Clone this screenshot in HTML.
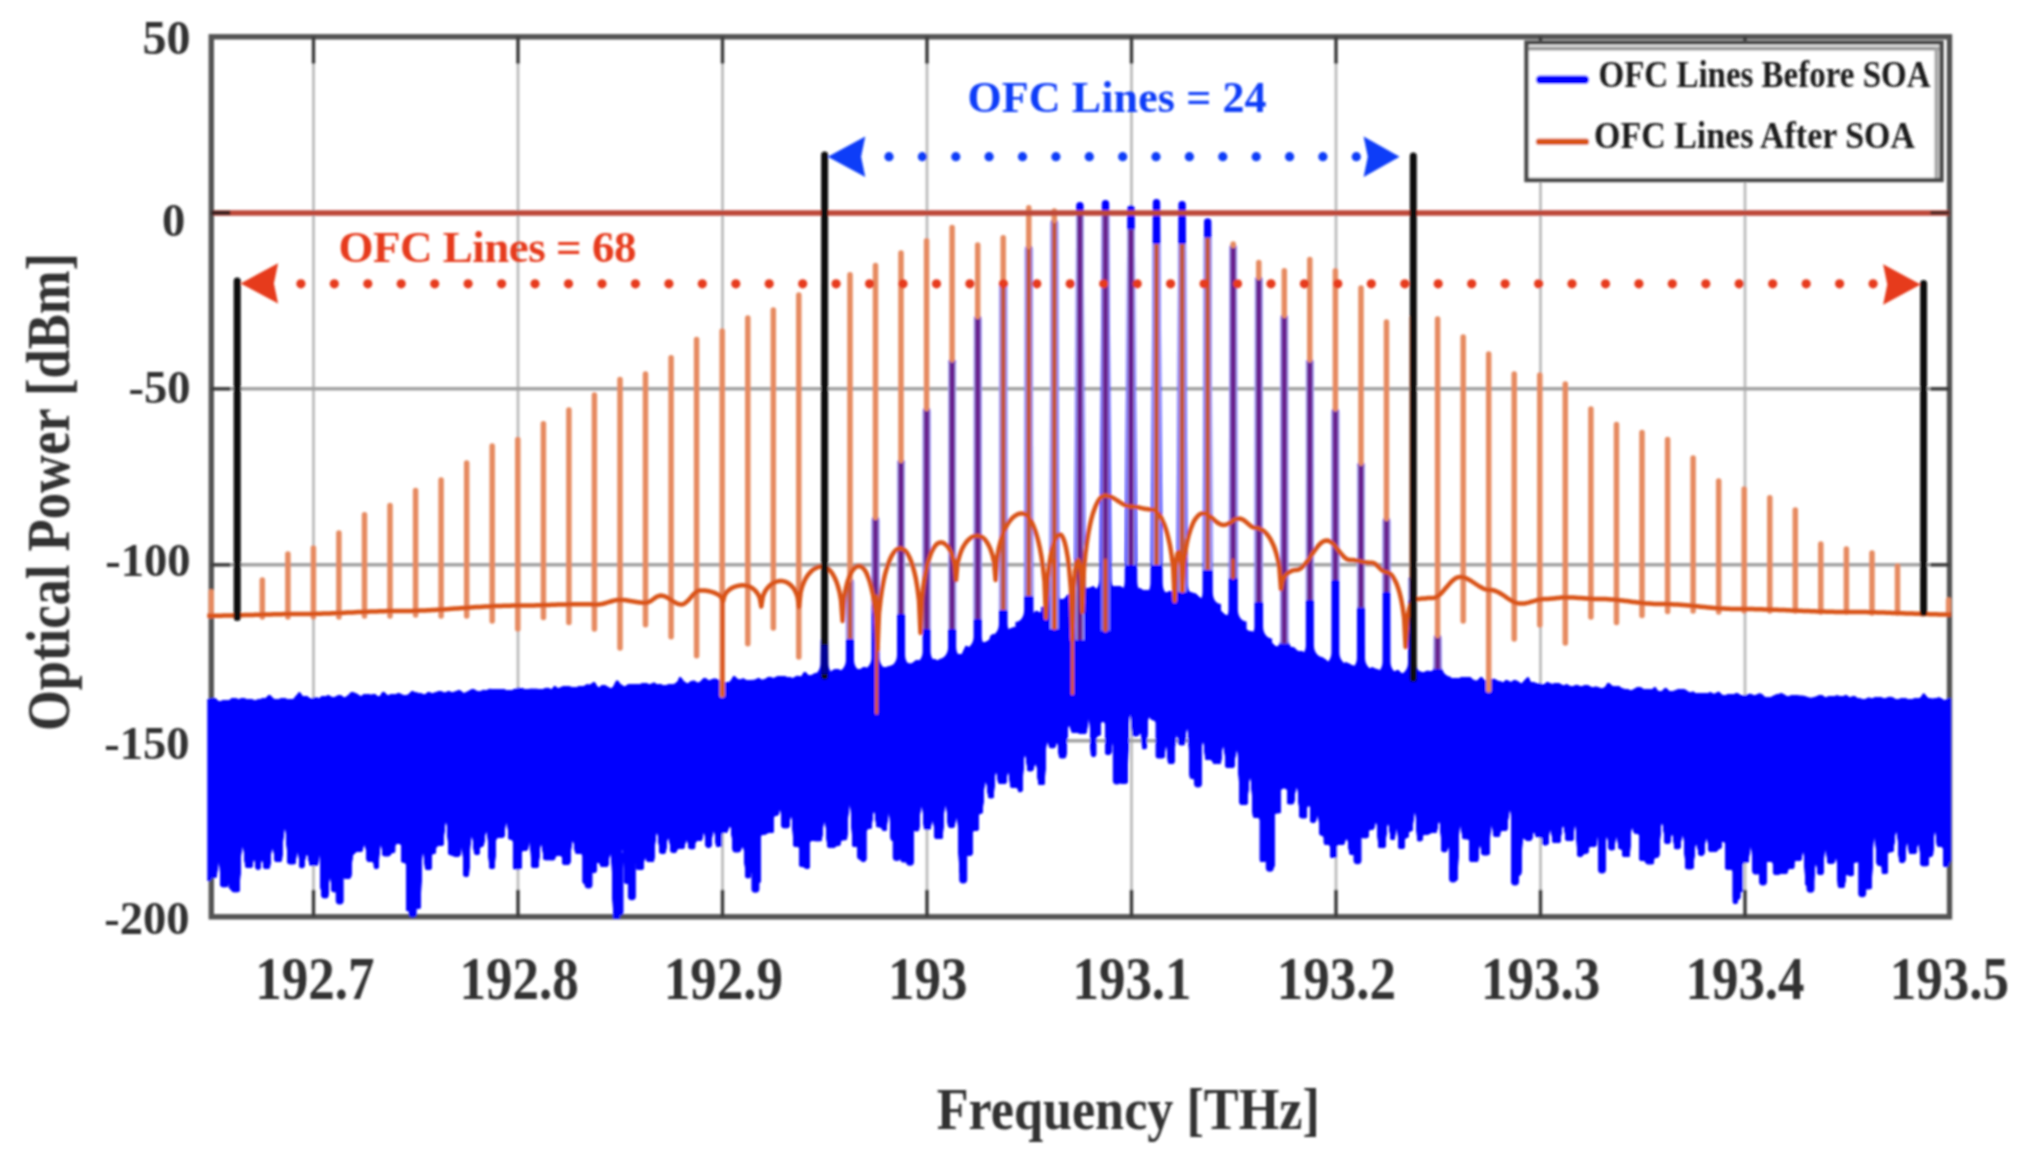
<!DOCTYPE html>
<html lang="en">
<head>
<meta charset="utf-8">
<title>OFC spectrum</title>
<style>html,body{margin:0;padding:0;background:#fff;}body{width:2031px;height:1164px;overflow:hidden;}svg{display:block;}</style>
</head>
<body>
<svg width="2031" height="1164" viewBox="0 0 2031 1164">
<defs>
<clipPath id="plot"><rect x="207.3" y="36.8" width="1743.8" height="882"/></clipPath>
<filter id="soft" x="-2%" y="-2%" width="104%" height="104%"><feGaussianBlur stdDeviation="0.8"/></filter>
<filter id="soft2" x="-2%" y="-2%" width="104%" height="104%"><feGaussianBlur stdDeviation="0.9"/></filter>
<filter id="goo" x="-1%" y="-5%" width="102%" height="110%"><feGaussianBlur in="SourceGraphic" stdDeviation="1.3" result="b"/><feColorMatrix in="b" mode="matrix" values="1 0 0 0 0  0 1 0 0 0  0 0 1 0 0  0 0 0 9 -4"/></filter>
</defs>
<rect x="0" y="0" width="2031" height="1164" fill="#ffffff"/>
<g filter="url(#soft)">
<g stroke="#bcbcbc" stroke-width="2.8" fill="none">
<line x1="313.5" y1="36.8" x2="313.5" y2="916.8"/>
<line x1="518" y1="36.8" x2="518" y2="916.8"/>
<line x1="722.5" y1="36.8" x2="722.5" y2="916.8"/>
<line x1="927" y1="36.8" x2="927" y2="916.8"/>
<line x1="1131.5" y1="36.8" x2="1131.5" y2="916.8"/>
<line x1="1336" y1="36.8" x2="1336" y2="916.8"/>
<line x1="1540.5" y1="36.8" x2="1540.5" y2="916.8"/>
<line x1="1745" y1="36.8" x2="1745" y2="916.8"/>
</g>
<g stroke="#a2a2a2" stroke-width="3.6" fill="none">
<line x1="211.3" y1="388.8" x2="1949.5" y2="388.8"/>
<line x1="211.3" y1="564.8" x2="1949.5" y2="564.8"/>
<line x1="211.3" y1="740.8" x2="1949.5" y2="740.8"/>
</g>
<rect x="211.3" y="36.8" width="1738.2" height="880" fill="none" stroke="#525252" stroke-width="5.4"/>
<g stroke="#3a3a3a" stroke-width="3.4">
<line x1="313.5" y1="36.8" x2="313.5" y2="63.8"/>
<line x1="313.5" y1="916.8" x2="313.5" y2="889.8"/>
<line x1="518" y1="36.8" x2="518" y2="63.8"/>
<line x1="518" y1="916.8" x2="518" y2="889.8"/>
<line x1="722.5" y1="36.8" x2="722.5" y2="63.8"/>
<line x1="722.5" y1="916.8" x2="722.5" y2="889.8"/>
<line x1="927" y1="36.8" x2="927" y2="63.8"/>
<line x1="927" y1="916.8" x2="927" y2="889.8"/>
<line x1="1131.5" y1="36.8" x2="1131.5" y2="63.8"/>
<line x1="1131.5" y1="916.8" x2="1131.5" y2="889.8"/>
<line x1="1336" y1="36.8" x2="1336" y2="63.8"/>
<line x1="1336" y1="916.8" x2="1336" y2="889.8"/>
<line x1="1540.5" y1="36.8" x2="1540.5" y2="63.8"/>
<line x1="1540.5" y1="916.8" x2="1540.5" y2="889.8"/>
<line x1="1745" y1="36.8" x2="1745" y2="63.8"/>
<line x1="1745" y1="916.8" x2="1745" y2="889.8"/>
<line x1="211.3" y1="212.8" x2="230.3" y2="212.8"/>
<line x1="1949.5" y1="212.8" x2="1930.5" y2="212.8"/>
<line x1="211.3" y1="388.8" x2="230.3" y2="388.8"/>
<line x1="1949.5" y1="388.8" x2="1930.5" y2="388.8"/>
<line x1="211.3" y1="564.8" x2="230.3" y2="564.8"/>
<line x1="1949.5" y1="564.8" x2="1930.5" y2="564.8"/>
<line x1="211.3" y1="740.8" x2="230.3" y2="740.8"/>
<line x1="1949.5" y1="740.8" x2="1930.5" y2="740.8"/>
</g>
<g clip-path="url(#plot)">
<path d="M205 700.2 L209.1 699 L212.5 698.9 L215.1 698.1 L218.7 702.1 L221.8 701.1 L225.7 700 L228.3 702 L231.2 698.6 L235.7 698.8 L239.8 699.5 L242.5 698.1 L246.7 699.6 L250.6 699.6 L255.1 700.6 L259.1 699.7 L263.4 698.5 L266.2 699 L269.1 694.6 L273.5 699.5 L276.8 700 L280.7 698.8 L285.6 698.8 L288.2 699.7 L293.2 700.1 L296.7 695.5 L299.6 691.8 L302.4 697.3 L307.1 696.4 L311 699.7 L315.6 696.9 L319 699.4 L321.9 696.2 L325 697.4 L328.1 695.2 L331.6 697.5 L335.8 697.1 L340 694.9 L344.4 698.4 L347.9 696.1 L352 691.7 L354.9 693.6 L357.8 694.4 L360.3 697.7 L363.2 694.9 L366.6 694.2 L371.6 695.5 L374.3 693.8 L377.5 696.8 L380 697.3 L382.9 691.3 L387.8 696.6 L391 694.3 L395.4 694.8 L398.8 693.3 L403.7 695.9 L408.3 695.2 L412.1 691.2 L415.3 692.8 L420.1 693.4 L425.1 695.4 L428.2 692 L431.2 693.6 L435.8 692.8 L440.3 690.9 L445.1 693.7 L448.7 690.9 L452.1 693.5 L455.6 691.6 L459.9 690.4 L462.8 693.5 L465.6 693 L469.8 690.7 L472.6 689.1 L476.7 691.2 L480.3 692.5 L483.3 689.7 L486.4 691 L490 688.8 L493.4 690.1 L498.1 689.7 L501.9 690.1 L504.4 689.6 L506.9 691.1 L510.6 690.7 L513.9 689.7 L518.4 687.8 L521.5 688.5 L525.3 689.6 L530.1 689 L533.8 689.2 L537.5 689.2 L542.3 689.8 L547.2 687.8 L552 690.2 L554.8 685.4 L557.5 689.3 L562.3 686.9 L566.4 686.8 L571.3 687 L574.8 688.1 L579.4 686.5 L583.2 687.2 L586.5 684.6 L590.1 685.6 L594.2 681.8 L598.6 689.6 L601.8 685.4 L605 685.6 L609.7 688.4 L612.6 688.7 L616.9 680 L620.4 684.5 L624.5 687.5 L629.2 684 L632.8 685 L637.6 684.4 L641.4 684.1 L644.3 683.1 L647.6 684 L650.8 684.7 L654.2 682.4 L656.7 685.4 L659.7 684.1 L662.5 685.5 L666.2 685.3 L670 684.5 L673.3 684.9 L677.4 682.8 L680.1 676.5 L683.2 681.4 L687.8 684.3 L691 681.4 L694.7 680.8 L697.8 684.2 L701.7 680.8 L705 677.6 L708.6 681.6 L712.4 679.3 L715.1 678.8 L718.4 680 L722.2 682.1 L726.5 682.5 L729.8 682.8 L734.1 675.8 L738.9 680.8 L743.4 678.5 L747.2 681.4 L751.7 680 L755.9 680.3 L758.5 677.8 L761.3 680.7 L765.3 679.6 L769.1 676.7 L773.4 678.7 L777.6 676.6 L780.7 676.5 L785 676.9 L790 677.9 L793.7 678.6 L797.7 675.6 L800.8 678.4 L804.8 671.4 L808.9 676.7 L812.2 675.3 L815.8 672.9 L818.8 676.2 L821.4 673.4 L826.3 672.5 L829.3 674.1 L833.3 670 L838.2 669.3 L841.9 672.1 L845 671.7 L847.6 667.5 L851.2 668.3 L854.6 667.9 L857.1 669.5 L859.9 669.9 L864.6 666.8 L868.1 669.7 L871.5 666.9 L874.1 665.3 L877.3 668.8 L880.5 666.7 L883.9 668.4 L888.5 666.7 L893.3 665.7 L895.9 666.1 L900.3 665 L902.9 665.8 L906.6 662.7 L911 664.7 L915.1 661.1 L918.6 660.2 L921.6 663.3 L924.7 663 L928.3 659.4 L931 660 L934.1 659.4 L938.8 661.2 L942.4 659.4 L945.7 656.5 L950.6 655.4 L954.7 657.5 L957.9 653.9 L961.5 656 L966.2 645.4 L970.9 649.7 L973.4 647.9 L978 647.5 L981.1 642.5 L984.9 642.9 L989.2 640.6 L992.9 633.3 L995.9 638.6 L999.2 633.5 L1003.3 634.1 L1006 632.1 L1009.4 629.1 L1012 628.2 L1016.9 627 L1020.6 623.1 L1025.5 622.3 L1028 619.9 L1031.6 616.8 L1036.4 610.5 L1039.9 613.8 L1044.4 611.4 L1047.4 610.7 L1052 604.7 L1056.4 602.4 L1060.1 599.7 L1063.7 599.7 L1066.5 596.8 L1071.5 591.6 L1074.9 596 L1079.3 595 L1082.6 590.3 L1087 588.1 L1090.4 588.4 L1093.3 586.2 L1096.7 590.3 L1101.6 587 L1106.2 589.6 L1108.8 588 L1113.6 586.7 L1118.3 586 L1122.9 587.8 L1125.5 591 L1129.9 591.6 L1133.1 592.1 L1136.2 591.2 L1139.4 588.3 L1144.2 591.3 L1146.8 589.8 L1151.7 593.4 L1154.8 591.3 L1159.6 590.7 L1164 593.9 L1168 592.1 L1171.4 591.5 L1175.8 589.8 L1179.6 592.2 L1184.4 595.1 L1187.1 591.2 L1191.3 592.8 L1194.9 593.5 L1199.3 597.4 L1202.1 599.3 L1206 599.9 L1209 601.3 L1211.9 606.1 L1215.2 606.2 L1218.9 608 L1223.1 614.1 L1226.8 615.9 L1231.5 615.8 L1234.3 618.4 L1238.3 624.4 L1243 625.6 L1247.4 630.9 L1251.4 632.1 L1254.8 632.1 L1258 636 L1261 635.3 L1265.2 638.6 L1268.2 643.1 L1270.8 641.7 L1274.7 646.4 L1277.6 647.4 L1280.8 646.3 L1284.1 648.1 L1287.6 650.1 L1291.1 647.9 L1294.1 647.6 L1297.6 651.9 L1302.3 651.7 L1304.9 653.1 L1309.6 652.8 L1313.1 655.9 L1316.3 657.2 L1319 658.1 L1324 658.7 L1328.8 662.9 L1331.5 663.2 L1336.2 662.7 L1339.1 663.9 L1342.6 664.8 L1345.6 662.5 L1349.4 664 L1352.5 666.2 L1355.1 666.1 L1357.7 667.9 L1361.7 667.6 L1365 667.7 L1368.5 669.6 L1372.1 667.6 L1375.8 669.4 L1380.3 670.7 L1384 669.3 L1387.6 669.5 L1391.3 669.5 L1394 672.7 L1397.8 669.9 L1401.3 674 L1405.9 674.2 L1410.4 670.7 L1414.2 674 L1417.1 673.3 L1419.7 671.3 L1422.6 673.7 L1427.2 670.8 L1432 672 L1435.7 670.4 L1438.6 676.4 L1443.4 673.9 L1446.2 676 L1449.6 678.1 L1453.5 678.9 L1458.5 678.6 L1463 677.3 L1466.9 678 L1470.6 677.5 L1473.2 680.5 L1477.3 681.6 L1481.4 676.8 L1484.3 680.5 L1488.1 682 L1491.2 679.1 L1494.5 679 L1497.6 681.3 L1500.6 681.7 L1503.4 683.3 L1506.3 679.8 L1511 683.2 L1514.2 680 L1518.1 681.8 L1521.7 684.6 L1524.8 680.6 L1528.3 676.9 L1530.8 683.6 L1533.7 682.3 L1537.5 684.5 L1540.4 683.2 L1543 685.9 L1547.3 682.3 L1551.7 684.5 L1555.3 683.7 L1558.4 683 L1562.8 686.1 L1567 684.5 L1570.6 687 L1573.8 686.5 L1576.8 684.7 L1579.9 687.3 L1584.3 685.7 L1587.6 685.4 L1591.7 687.7 L1596.6 686.9 L1600.9 688.9 L1605.2 687.8 L1608.2 682.6 L1611.1 685.8 L1615.9 687.4 L1618.5 686.2 L1622.6 689.3 L1625.2 689 L1629.8 690.3 L1632.4 690.6 L1637.3 687.5 L1640.1 687.3 L1644.6 690.2 L1648.7 688.9 L1651.4 691.1 L1654.7 686.8 L1657.9 691.3 L1661.2 692.6 L1665.9 687.6 L1669.5 692.2 L1673.7 691.4 L1678.4 689.6 L1681.3 689.4 L1685.7 690 L1689.4 693.3 L1693.2 691.6 L1696.3 694.4 L1699.4 693.4 L1702.1 693.3 L1706.6 693.8 L1710.7 692.5 L1714.2 695.1 L1718.9 691.5 L1722 695.5 L1725.5 695.6 L1729.1 694.3 L1733.5 695 L1736.8 693 L1741 695.9 L1744.6 696.2 L1747.4 694.9 L1750.5 693.8 L1754.8 696.7 L1757.6 694.2 L1761.5 693.9 L1764.4 697.6 L1767.2 697.6 L1770.6 697.7 L1775 695.4 L1779.1 694.1 L1782.5 693.8 L1787 696.9 L1791.1 695.9 L1795.1 695.8 L1799.9 696 L1804.3 696.1 L1808.6 698.2 L1812.8 698.2 L1816.9 696.5 L1821 695 L1825.4 697.9 L1828.6 696.7 L1832.6 696.7 L1837.4 695.8 L1841.9 696.8 L1846.8 695.4 L1849.7 698.7 L1853.5 695.8 L1857.4 698.6 L1861.5 699.2 L1865 699.8 L1869.2 697.5 L1872 700.2 L1874.7 697.1 L1877.2 697.8 L1881.4 697.6 L1884.5 699.4 L1888.3 697.2 L1891.8 697.2 L1896.2 700 L1899.9 699 L1904.8 698.2 L1909.4 700.3 L1912.6 699.2 L1917.2 698.5 L1920.4 698.6 L1923.9 693 L1927.1 698.2 L1930.8 699.1 L1935 698.9 L1939.6 697.7 L1944.4 701 L1949 698.4 L1953.8 700.7 L1961.3 875.7 L1953.9 875.7 L1951.9 858.2 L1950.2 858.2 L1948.2 866.3 L1943.3 866.3 L1943.3 846.4 L1937.2 846.4 L1935.6 816.8 L1934.3 816.8 L1932.8 856.1 L1928.3 856.1 L1928.3 865.8 L1921 865.8 L1919.2 836.5 L1917.8 836.5 L1916 853.6 L1909.3 853.6 L1907.8 832.4 L1906.4 832.4 L1904.9 862.2 L1899.4 862.2 L1897.3 826.1 L1895.4 826.1 L1893.3 851.8 L1887.4 851.8 L1887.4 873.6 L1882.1 873.6 L1882.1 865.2 L1877.1 865.2 L1875.1 825.7 L1873.4 825.7 L1871.4 888.9 L1864.2 888.9 L1862.7 850.1 L1861.3 850.1 L1859.8 861.9 L1853.3 861.9 L1853.3 875.8 L1848.6 875.8 L1847.2 870 L1846 870 L1844.5 887.4 L1838.2 887.4 L1836.8 845 L1835.6 845 L1834.2 863.1 L1827.6 863.1 L1826 837.9 L1824.6 837.9 L1823 874.4 L1817.9 874.4 L1816.4 852 L1815.1 852 L1813.6 885.2 L1805.5 885.2 L1804 835.9 L1802.8 835.9 L1801.3 860.2 L1794 860.2 L1794 868.4 L1787.4 868.4 L1787.4 873.5 L1779.9 873.5 L1779.9 874.1 L1773.2 874.1 L1773.2 861.4 L1765.4 861.4 L1763.4 849.2 L1761.8 849.2 L1759.8 873.9 L1753.1 873.9 L1751.5 833.2 L1750.1 833.2 L1748.5 862.5 L1742.4 862.5 L1742.4 892 L1737.5 892 L1737.5 903.4 L1733.1 903.4 L1733.1 869.1 L1725.3 869.1 L1725.3 840.8 L1721.1 840.8 L1721.1 848.6 L1717 848.6 L1717 851.4 L1709 851.4 L1707.2 830.9 L1705.7 830.9 L1703.9 855.1 L1698.8 855.1 L1696.9 839 L1695.2 839 L1693.2 868.9 L1685.7 868.9 L1683.7 828.9 L1682 828.9 L1680 848.8 L1674.5 848.8 L1672.9 826.8 L1671.5 826.8 L1669.9 843.5 L1665 843.5 L1662.8 816.5 L1661 816.5 L1658.9 857.2 L1653.8 857.2 L1653.8 863.9 L1646 863.9 L1646 860.4 L1639.7 860.4 L1639.7 833.3 L1634.2 833.3 L1632.6 820.2 L1631.2 820.2 L1629.6 856.7 L1622.7 856.7 L1622.7 848.8 L1618.6 848.8 L1617.1 826.1 L1615.8 826.1 L1614.3 849.9 L1609.1 849.9 L1607.4 826.9 L1605.9 826.9 L1604.2 864.2 L1600 864.2 L1598.6 819 L1597.4 819 L1596 846.3 L1588.2 846.3 L1588.2 853.1 L1582.9 853.1 L1582.9 856.1 L1577.5 856.1 L1575.9 808.5 L1574.6 808.5 L1573.1 840.7 L1565.9 840.7 L1563.9 820.9 L1562.2 820.9 L1560.2 842.7 L1552.7 842.7 L1551 820.5 L1549.7 820.5 L1548 844.9 L1542.6 844.9 L1542.6 837 L1535.8 837 L1534.4 825.2 L1533.2 825.2 L1531.8 840.2 L1525.3 840.2 L1523.7 832 L1522.4 832 L1520.9 875.2 L1513.2 875.2 L1511 802.2 L1509.2 802.2 L1507 830.3 L1499.9 830.3 L1499.9 836.4 L1493.6 836.4 L1492.1 811.8 L1490.7 811.8 L1489.2 855 L1481.9 855 L1480.5 831.3 L1479.3 831.3 L1477.9 861.6 L1469.9 861.6 L1469.9 838.8 L1462.6 838.8 L1460.8 814.5 L1459.3 814.5 L1457.4 880.1 L1450.7 880.1 L1449.3 834 L1448 834 L1446.6 851.8 L1441.9 851.8 L1440.1 814.7 L1438.5 814.7 L1436.6 832.7 L1429.2 832.7 L1429.2 834.2 L1422.2 834.2 L1422.2 841 L1417.4 841 L1415.6 800.3 L1414.2 800.3 L1412.4 830.9 L1408.3 830.9 L1408.3 837.7 L1404.3 837.7 L1404.3 848.3 L1398.8 848.3 L1397.3 815.1 L1396 815.1 L1394.6 839.7 L1390.7 839.7 L1388.8 817.2 L1387.1 817.2 L1385.2 847.6 L1378.5 847.6 L1376.9 815 L1375.5 815 L1373.8 829.3 L1368.2 829.3 L1368.2 837.8 L1361.7 837.8 L1360.2 835.5 L1359 835.5 L1357.5 854.4 L1349.6 854.4 L1347.6 835.5 L1346 835.5 L1344 844.5 L1336.6 844.5 L1336.6 857.5 L1330.3 857.5 L1330.3 844.3 L1324.1 844.3 L1324.1 835.1 L1319.9 835.1 L1318.4 805.9 L1317.1 805.9 L1315.6 822.2 L1310.7 822.2 L1310.7 805.1 L1306.8 805.1 L1306.8 818 L1299.9 818 L1297.7 781.9 L1295.9 781.9 L1293.7 804 L1287.4 804 L1287.4 788 L1280.6 788 L1280.6 813 L1274.1 813 L1274.1 867.4 L1270.3 867.4 L1268.6 843.3 L1267.3 843.3 L1265.6 861.6 L1260.1 861.6 L1260.1 817.4 L1253.2 817.4 L1251.1 769.6 L1249.3 769.6 L1247.2 804.3 L1240 804.3 L1237.9 743 L1236.1 743 L1234 767.4 L1225.9 767.4 L1224.1 738.2 L1222.5 738.2 L1220.7 763.7 L1213.1 763.7 L1213.1 759.6 L1205.4 759.6 L1203.6 728.8 L1202.1 728.8 L1200.3 780.2 L1194.7 780.2 L1194.7 778.3 L1190.1 778.3 L1188.2 718.4 L1186.6 718.4 L1184.7 744.9 L1179 744.9 L1177.2 726.8 L1175.8 726.8 L1174 763.5 L1168.2 763.5 L1166.8 729.1 L1165.6 729.1 L1164.3 758 L1156.1 758 L1156.1 720 L1151.5 720 L1149.7 713.9 L1148.1 713.9 L1146.3 749 L1142.4 749 L1141 725.7 L1139.8 725.7 L1138.4 736 L1132.4 736 L1130.6 695.7 L1129.1 695.7 L1127.4 783.1 L1119.6 783.1 L1119.6 777.4 L1115.7 777.4 L1114 731.1 L1112.6 731.1 L1110.9 754.2 L1105.3 754.2 L1105.3 721.3 L1100.3 721.3 L1100.3 735.7 L1095.9 735.7 L1095.9 756.2 L1091.2 756.2 L1089.6 704.9 L1088.2 704.9 L1086.6 733.2 L1079.2 733.2 L1079.2 732.7 L1071.7 732.7 L1069.6 722 L1067.9 722 L1065.8 758 L1059.3 758 L1057.8 735.3 L1056.5 735.3 L1055.1 747.8 L1049.6 747.8 L1047.8 735.1 L1046.3 735.1 L1044.5 784.6 L1038.5 784.6 L1036.6 760.3 L1034.9 760.3 L1032.9 771 L1027.6 771 L1025.7 747.1 L1024 747.1 L1022.1 791.8 L1018.2 791.8 L1018.2 787.3 L1010.4 787.3 L1008.9 761.7 L1007.6 761.7 L1006.1 783.3 L998.3 783.3 L996.6 762.4 L995.2 762.4 L993.5 798 L988.5 798 L986.4 776.2 L984.6 776.2 L982.4 813.1 L978.3 813.1 L978.3 830.4 L972.1 830.4 L972.1 855.2 L966 855.2 L966 873 L959.5 873 L957.7 808.1 L956.2 808.1 L954.4 827.2 L948.3 827.2 L946.3 797.7 L944.5 797.7 L942.5 838.7 L935 838.7 L933.4 812.9 L932 812.9 L930.4 829.4 L924.3 829.4 L922.4 798 L920.7 798 L918.8 830.9 L914 830.9 L911.9 827.8 L910 827.8 L907.9 861.9 L901.1 861.9 L899.1 810 L897.5 810 L895.5 840.5 L891.1 840.5 L889.5 799.3 L888.1 799.3 L886.5 830.6 L882.4 830.6 L882.4 826.9 L876.5 826.9 L874.7 803.7 L873.2 803.7 L871.4 828.6 L866 828.6 L866 861.1 L860.8 861.1 L860.8 846.7 L852.7 846.7 L850.6 793.7 L848.9 793.7 L846.8 839.8 L840.1 839.8 L840.1 845.4 L835.4 845.4 L835.4 847.2 L827.5 847.2 L825.4 815.2 L823.7 815.2 L821.6 840.8 L813.8 840.8 L813.8 840.5 L809.4 840.5 L809.4 868.5 L805.2 868.5 L805.2 866.6 L799.7 866.6 L799.7 846.2 L793.6 846.2 L792 804.5 L790.6 804.5 L789 827.8 L782 827.8 L780.7 796.8 L779.5 796.8 L778.2 815.2 L773.5 815.2 L773.5 832.7 L766.2 832.7 L766.2 834.2 L760.4 834.2 L760.4 882.7 L756 882.7 L754 864.7 L752.2 864.7 L750.2 877.9 L745.8 877.9 L743.8 843.5 L742.1 843.5 L740.1 851.9 L733.2 851.9 L731.1 823.3 L729.4 823.3 L727.3 832.3 L721.5 832.3 L721.5 846.7 L716.3 846.7 L714.5 824.6 L712.9 824.6 L711 847.1 L706 847.1 L704.5 822.1 L703.3 822.1 L701.8 840.7 L694.9 840.7 L694.9 848.8 L688.9 848.8 L687.3 834.6 L685.9 834.6 L684.3 848.4 L676.6 848.4 L676.6 852.2 L670.9 852.2 L669.1 832.8 L667.4 832.8 L665.6 853.1 L659.8 853.1 L657.7 826.6 L655.9 826.6 L653.8 861.7 L647 861.7 L645.7 847.7 L644.6 847.7 L643.2 869.7 L636.7 869.7 L634.8 851.4 L633.2 851.4 L631.2 883.4 L624.8 883.4 L622.8 832.3 L621.2 832.3 L619.2 919.1 L613.5 919.1 L611.5 845.6 L609.8 845.6 L607.9 866.4 L600.2 866.4 L600.2 862 L596.1 862 L596.1 872.5 L590.6 872.5 L590.6 883.4 L583 883.4 L583 853.4 L575.4 853.4 L573.4 834.7 L571.8 834.7 L569.9 864.2 L562.6 864.2 L562.6 855.3 L554.9 855.3 L554.9 859.9 L550.7 859.9 L550.7 859.8 L543.7 859.8 L541.9 837 L540.3 837 L538.4 867.4 L531.5 867.4 L530.2 822.2 L529 822.2 L527.7 850.2 L521.3 850.2 L521.3 868.9 L513.2 868.9 L513.2 839.2 L508.8 839.2 L507.2 812.6 L505.8 812.6 L504.1 837.2 L498.3 837.2 L497 837.7 L495.9 837.7 L494.5 868.4 L489.5 868.4 L487.4 824.7 L485.7 824.7 L483.6 846.2 L479.5 846.2 L479.5 854.2 L474.4 854.2 L472.4 828.2 L470.7 828.2 L468.7 876.2 L463.8 876.2 L462.4 827 L461.3 827 L459.9 856.2 L453.5 856.2 L453.5 854.8 L448.8 854.8 L446.8 811.9 L445.2 811.9 L443.2 845.6 L435.8 845.6 L435.8 853.5 L431.2 853.5 L431.2 869.3 L425.3 869.3 L423.6 838.1 L422.1 838.1 L420.4 908.6 L415.5 908.6 L414.1 889.9 L412.9 889.9 L411.5 910.8 L406.3 910.8 L406.3 862.1 L401.5 862.1 L401.5 843.5 L394.9 843.5 L394.9 852.7 L390.2 852.7 L390.2 856 L382.8 856 L381.3 832.8 L380 832.8 L378.4 868.3 L374.1 868.3 L374.1 861.3 L367.1 861.3 L365.4 839.5 L363.9 839.5 L362.2 851.7 L354.9 851.7 L353.5 854.5 L352.3 854.5 L350.8 878.2 L343.7 878.2 L342.1 827.5 L340.7 827.5 L339.1 891.8 L331.9 891.8 L330.5 859.1 L329.3 859.1 L327.9 897.8 L322 897.8 L320.5 837.5 L319.2 837.5 L317.7 865.5 L309.7 865.5 L307.7 851.3 L305.9 851.3 L303.9 867.8 L299.8 867.8 L298.3 841.6 L297 841.6 L295.4 864 L287.9 864 L285.8 821.4 L283.9 821.4 L281.7 861.4 L275 861.4 L273.2 842 L271.6 842 L269.7 868.4 L263.9 868.4 L262.6 848.6 L261.4 848.6 L260.1 869.2 L256 869.2 L254.7 847.9 L253.5 847.9 L252.2 867.5 L245.5 867.5 L243.3 839.3 L241.5 839.3 L239.3 891.8 L232 891.8 L230.4 876.8 L229 876.8 L227.5 886.8 L220.9 886.8 L219.4 846.1 L218.1 846.1 L216.6 877.4 L210.8 877.4 L210.8 880.6 L205 880.6 Z" fill="#0000ff" stroke="#0000ff" stroke-width="1.2" stroke-linejoin="round" filter="url(#goo)"/>
<line x1="412.7" y1="857.5" x2="412.7" y2="913.5" stroke="#0000ff" stroke-width="8" stroke-linecap="round"/>
<line x1="619.5" y1="855.5" x2="619.5" y2="911.5" stroke="#0000ff" stroke-width="8" stroke-linecap="round"/>
<line x1="339.7" y1="844.6" x2="339.7" y2="900.6" stroke="#0000ff" stroke-width="8" stroke-linecap="round"/>
<line x1="631.9" y1="840.2" x2="631.9" y2="896.2" stroke="#0000ff" stroke-width="8" stroke-linecap="round"/>
<line x1="755.4" y1="832.8" x2="755.4" y2="888.8" stroke="#0000ff" stroke-width="8" stroke-linecap="round"/>
<line x1="324" y1="831" x2="324" y2="887" stroke="#0000ff" stroke-width="8" stroke-linecap="round"/>
<line x1="588.5" y1="828.4" x2="588.5" y2="884.4" stroke="#0000ff" stroke-width="8" stroke-linecap="round"/>
<line x1="232.5" y1="829.9" x2="232.5" y2="885.9" stroke="#0000ff" stroke-width="8" stroke-linecap="round"/>
<line x1="963.2" y1="823.5" x2="963.2" y2="879.5" stroke="#0000ff" stroke-width="8" stroke-linecap="round"/>
<line x1="1269.8" y1="811.7" x2="1269.8" y2="867.7" stroke="#0000ff" stroke-width="8" stroke-linecap="round"/>
<line x1="805" y1="805.8" x2="805" y2="861.8" stroke="#0000ff" stroke-width="8" stroke-linecap="round"/>
<line x1="861" y1="800" x2="861" y2="856" stroke="#0000ff" stroke-width="8" stroke-linecap="round"/>
<line x1="896.7" y1="801" x2="896.7" y2="857" stroke="#0000ff" stroke-width="8" stroke-linecap="round"/>
<line x1="910" y1="805.8" x2="910" y2="861.8" stroke="#0000ff" stroke-width="8" stroke-linecap="round"/>
<line x1="1116.8" y1="724.5" x2="1116.8" y2="780.5" stroke="#0000ff" stroke-width="8" stroke-linecap="round"/>
<line x1="1198" y1="727.5" x2="1198" y2="783.5" stroke="#0000ff" stroke-width="8" stroke-linecap="round"/>
<line x1="1357.5" y1="804.3" x2="1357.5" y2="860.3" stroke="#0000ff" stroke-width="8" stroke-linecap="round"/>
<line x1="1736.7" y1="840.2" x2="1736.7" y2="896.2" stroke="#0000ff" stroke-width="8" stroke-linecap="round"/>
<line x1="1453" y1="822.5" x2="1453" y2="878.5" stroke="#0000ff" stroke-width="8" stroke-linecap="round"/>
<line x1="1515" y1="825.4" x2="1515" y2="881.4" stroke="#0000ff" stroke-width="8" stroke-linecap="round"/>
<line x1="1810.5" y1="832.8" x2="1810.5" y2="888.8" stroke="#0000ff" stroke-width="8" stroke-linecap="round"/>
<line x1="1862.2" y1="837.3" x2="1862.2" y2="893.3" stroke="#0000ff" stroke-width="8" stroke-linecap="round"/>
<line x1="1763" y1="825.4" x2="1763" y2="881.4" stroke="#0000ff" stroke-width="8" stroke-linecap="round"/>
<line x1="1602" y1="813.6" x2="1602" y2="869.6" stroke="#0000ff" stroke-width="8" stroke-linecap="round"/>
<path d="M820.7 641 L820.4 663.5 C820.4 670.1 816.1 675.5 811 675.5 L811 683.5 L837.8 683.5 L837.8 675.5 C832.7 675.5 828.4 670.1 828.4 663.5 L828.1 641 A3.7 3.7 0 0 0 820.7 641 Z" fill="#0000ff"/>
<path d="M846.2 582 L845.9 659.8 C845.9 666.4 841.7 671.8 836.6 671.8 L836.6 679.8 L863.3 679.8 L863.3 671.8 C858.2 671.8 854 666.4 854 659.8 L853.7 582 A3.7 3.7 0 0 0 846.2 582 Z" fill="#0000ff"/>
<path d="M871.8 520 L871.5 657.5 C871.5 664.1 867.2 669.5 862.1 669.5 L862.1 677.5 L888.9 677.5 L888.9 669.5 C883.8 669.5 879.5 664.1 879.5 657.5 L879.2 520 A3.7 3.7 0 0 0 871.8 520 Z" fill="#0000ff"/>
<path d="M897.3 463 L897 654.7 C897 661.3 892.8 666.7 887.7 666.7 L887.7 674.7 L914.4 674.7 L914.4 666.7 C909.3 666.7 905.1 661.3 905.1 654.7 L904.8 463 A3.7 3.7 0 0 0 897.3 463 Z" fill="#0000ff"/>
<path d="M922.9 411 L922.6 651.6 C922.6 658.2 918.3 663.6 913.2 663.6 L913.2 671.6 L940 671.6 L940 663.6 C934.9 663.6 930.6 658.2 930.6 651.6 L930.3 411 A3.7 3.7 0 0 0 922.9 411 Z" fill="#0000ff"/>
<path d="M948.4 362.5 L948.1 647.1 C948.1 653.7 943.9 659.1 938.8 659.1 L938.8 667.1 L965.5 667.1 L965.5 659.1 C960.4 659.1 956.2 653.7 956.2 647.1 L955.9 362.5 A3.7 3.7 0 0 0 948.4 362.5 Z" fill="#0000ff"/>
<path d="M974 319 L973.6 636.6 C973.6 643.2 969.4 648.6 964.3 648.6 L964.3 656.6 L991.1 656.6 L991.1 648.6 C986 648.6 981.8 643.2 981.8 636.6 L981.4 319 A3.7 3.7 0 0 0 974 319 Z" fill="#0000ff"/>
<path d="M999.5 285 L998.9 623.8 C998.9 630.4 995 635.8 989.9 635.8 L989.9 643.8 L1016.6 643.8 L1016.6 635.8 C1011.5 635.8 1007.6 630.4 1007.6 623.8 L1007 285 A3.7 3.7 0 0 0 999.5 285 Z" fill="#0000ff"/>
<path d="M1025.1 249 L1024.1 610 C1024.1 616.6 1020.5 622 1015.4 622 L1015.4 630 L1042.2 630 L1042.2 622 C1037.1 622 1033.5 616.6 1033.5 610 L1032.5 249 A3.7 3.7 0 0 0 1025.1 249 Z" fill="#0000ff"/>
<path d="M1050.6 223 L1049.2 595 C1049.2 601.6 1046.1 607 1041 607 L1041 615 L1067.7 615 L1067.7 607 C1062.6 607 1059.5 601.6 1059.5 595 L1058 223 A3.7 3.7 0 0 0 1050.6 223 Z" fill="#0000ff"/>
<path d="M1076.2 205.8 L1074.2 583.1 C1074.2 589.7 1071.6 595.1 1066.5 595.1 L1066.5 603.1 L1093.3 603.1 L1093.3 595.1 C1088.2 595.1 1085.6 589.7 1085.6 583.1 L1083.6 205.8 A3.7 3.7 0 0 0 1076.2 205.8 Z" fill="#0000ff"/>
<path d="M1101.8 203.7 L1099.3 578.7 C1099.3 585.3 1097.2 590.7 1092.1 590.7 L1092.1 598.7 L1118.8 598.7 L1118.8 590.7 C1113.7 590.7 1111.6 585.3 1111.6 578.7 L1109.2 203.7 A3.7 3.7 0 0 0 1101.8 203.7 Z" fill="#0000ff"/>
<path d="M1127.3 209 L1124.7 580.5 C1124.7 587.1 1122.7 592.5 1117.6 592.5 L1117.6 600.5 L1144.4 600.5 L1144.4 592.5 C1139.3 592.5 1137.3 587.1 1137.3 580.5 L1134.7 209 A3.7 3.7 0 0 0 1127.3 209 Z" fill="#0000ff"/>
<path d="M1152.8 202.7 L1150.4 582.3 C1150.4 588.9 1148.3 594.3 1143.2 594.3 L1143.2 602.3 L1169.9 602.3 L1169.9 594.3 C1164.8 594.3 1162.7 588.9 1162.7 582.3 L1160.2 202.7 A3.7 3.7 0 0 0 1152.8 202.7 Z" fill="#0000ff"/>
<path d="M1178.4 204.7 L1176.4 583.5 C1176.4 590.1 1173.8 595.5 1168.7 595.5 L1168.7 603.5 L1195.5 603.5 L1195.5 595.5 C1190.4 595.5 1187.8 590.1 1187.8 583.5 L1185.8 204.7 A3.7 3.7 0 0 0 1178.4 204.7 Z" fill="#0000ff"/>
<path d="M1204 222 L1202.5 592 C1202.5 598.6 1199.4 604 1194.3 604 L1194.3 612 L1221 612 L1221 604 C1215.9 604 1212.8 598.6 1212.8 592 L1211.4 222 A3.7 3.7 0 0 0 1204 222 Z" fill="#0000ff"/>
<path d="M1229.5 248 L1228.5 609.5 C1228.5 616.1 1224.9 621.5 1219.8 621.5 L1219.8 629.5 L1246.6 629.5 L1246.6 621.5 C1241.5 621.5 1237.9 616.1 1237.9 609.5 L1236.9 248 A3.7 3.7 0 0 0 1229.5 248 Z" fill="#0000ff"/>
<path d="M1255 280 L1254.4 626.6 C1254.4 633.2 1250.5 638.6 1245.4 638.6 L1245.4 646.6 L1272.1 646.6 L1272.1 638.6 C1267 638.6 1263.1 633.2 1263.1 626.6 L1262.5 280 A3.7 3.7 0 0 0 1255 280 Z" fill="#0000ff"/>
<path d="M1280.6 318 L1280.2 638.4 C1280.2 645 1276 650.4 1270.9 650.4 L1270.9 658.4 L1297.7 658.4 L1297.7 650.4 C1292.6 650.4 1288.4 645 1288.4 638.4 L1288 318 A3.7 3.7 0 0 0 1280.6 318 Z" fill="#0000ff"/>
<path d="M1306.1 362.5 L1305.8 645.2 C1305.8 651.8 1301.6 657.2 1296.5 657.2 L1296.5 665.2 L1323.2 665.2 L1323.2 657.2 C1318.1 657.2 1313.9 651.8 1313.9 645.2 L1313.5 362.5 A3.7 3.7 0 0 0 1306.1 362.5 Z" fill="#0000ff"/>
<path d="M1331.7 411.6 L1331.4 652.5 C1331.4 659.1 1327.1 664.5 1322 664.5 L1322 672.5 L1348.8 672.5 L1348.8 664.5 C1343.7 664.5 1339.4 659.1 1339.4 652.5 L1339.1 411.6 A3.7 3.7 0 0 0 1331.7 411.6 Z" fill="#0000ff"/>
<path d="M1357.2 465.7 L1356.9 657.7 C1356.9 664.3 1352.7 669.7 1347.6 669.7 L1347.6 677.7 L1374.3 677.7 L1374.3 669.7 C1369.2 669.7 1365 664.3 1365 657.7 L1364.7 465.7 A3.7 3.7 0 0 0 1357.2 465.7 Z" fill="#0000ff"/>
<path d="M1382.8 521 L1382.5 661.7 C1382.5 668.3 1378.2 673.7 1373.1 673.7 L1373.1 681.7 L1399.9 681.7 L1399.9 673.7 C1394.8 673.7 1390.5 668.3 1390.5 661.7 L1390.2 521 A3.7 3.7 0 0 0 1382.8 521 Z" fill="#0000ff"/>
<path d="M1408.3 580 L1408 662.5 C1408 669.1 1403.8 674.5 1398.7 674.5 L1398.7 682.5 L1425.4 682.5 L1425.4 674.5 C1420.3 674.5 1416.1 669.1 1416.1 662.5 L1415.8 580 A3.7 3.7 0 0 0 1408.3 580 Z" fill="#0000ff"/>
<path d="M1433.9 638 L1433.6 664.8 C1433.6 671.4 1429.3 676.8 1424.2 676.8 L1424.2 684.8 L1451 684.8 L1451 676.8 C1445.9 676.8 1441.6 671.4 1441.6 664.8 L1441.3 638 A3.7 3.7 0 0 0 1433.9 638 Z" fill="#0000ff"/>
<line x1="211.2" y1="591.8" x2="211.2" y2="616" stroke="#e68a60" stroke-width="5.5" stroke-linecap="round"/>
<line x1="236.8" y1="586" x2="236.8" y2="616" stroke="#e68a60" stroke-width="5.5" stroke-linecap="round"/>
<line x1="262.3" y1="580" x2="262.3" y2="617" stroke="#e68a60" stroke-width="5.5" stroke-linecap="round"/>
<line x1="287.9" y1="554" x2="287.9" y2="617" stroke="#e68a60" stroke-width="5.5" stroke-linecap="round"/>
<line x1="313.4" y1="548" x2="313.4" y2="617" stroke="#e68a60" stroke-width="5.5" stroke-linecap="round"/>
<line x1="338.9" y1="533" x2="338.9" y2="617" stroke="#e68a60" stroke-width="5.5" stroke-linecap="round"/>
<line x1="364.5" y1="514.7" x2="364.5" y2="616" stroke="#e68a60" stroke-width="5.5" stroke-linecap="round"/>
<line x1="390" y1="505.6" x2="390" y2="616" stroke="#e68a60" stroke-width="5.5" stroke-linecap="round"/>
<line x1="415.6" y1="490.6" x2="415.6" y2="615" stroke="#e68a60" stroke-width="5.5" stroke-linecap="round"/>
<line x1="441.1" y1="480" x2="441.1" y2="616" stroke="#e68a60" stroke-width="5.5" stroke-linecap="round"/>
<line x1="466.7" y1="463" x2="466.7" y2="616" stroke="#e68a60" stroke-width="5.5" stroke-linecap="round"/>
<line x1="492.2" y1="446" x2="492.2" y2="621" stroke="#e68a60" stroke-width="5.5" stroke-linecap="round"/>
<line x1="517.8" y1="439.6" x2="517.8" y2="629" stroke="#e68a60" stroke-width="5.5" stroke-linecap="round"/>
<line x1="543.4" y1="423.8" x2="543.4" y2="617.5" stroke="#e68a60" stroke-width="5.5" stroke-linecap="round"/>
<line x1="568.9" y1="410" x2="568.9" y2="622.6" stroke="#e68a60" stroke-width="5.5" stroke-linecap="round"/>
<line x1="594.4" y1="395" x2="594.4" y2="629" stroke="#e68a60" stroke-width="5.5" stroke-linecap="round"/>
<line x1="620" y1="379.5" x2="620" y2="648" stroke="#e68a60" stroke-width="5.5" stroke-linecap="round"/>
<line x1="645.5" y1="374" x2="645.5" y2="624.8" stroke="#e68a60" stroke-width="5.5" stroke-linecap="round"/>
<line x1="671.1" y1="357.8" x2="671.1" y2="636.8" stroke="#e68a60" stroke-width="5.5" stroke-linecap="round"/>
<line x1="696.6" y1="339.6" x2="696.6" y2="655.7" stroke="#e68a60" stroke-width="5.5" stroke-linecap="round"/>
<line x1="722.2" y1="331" x2="722.2" y2="695" stroke="#e68a60" stroke-width="5.5" stroke-linecap="round"/>
<line x1="747.8" y1="318" x2="747.8" y2="643.7" stroke="#e68a60" stroke-width="5.5" stroke-linecap="round"/>
<line x1="773.3" y1="310" x2="773.3" y2="628" stroke="#e68a60" stroke-width="5.5" stroke-linecap="round"/>
<line x1="798.8" y1="295" x2="798.8" y2="657" stroke="#e68a60" stroke-width="5.5" stroke-linecap="round"/>
<line x1="824.4" y1="285" x2="824.4" y2="640" stroke="#e68a60" stroke-width="5.5" stroke-linecap="round"/>
<line x1="850" y1="274.8" x2="850" y2="582" stroke="#e68a60" stroke-width="5.5" stroke-linecap="round"/>
<line x1="850" y1="582" x2="850" y2="639" stroke="#9c9cff" stroke-width="8.6"/>
<line x1="850" y1="582" x2="850" y2="639" stroke="#c2563c" stroke-width="5"/>
<line x1="875.5" y1="265.6" x2="875.5" y2="520" stroke="#e68a60" stroke-width="5.5" stroke-linecap="round"/>
<line x1="875.5" y1="520" x2="875.5" y2="600" stroke="#b4b0ff" stroke-width="8.2"/>
<line x1="875.5" y1="520" x2="875.5" y2="600" stroke="#6b2390" stroke-width="5.8"/>
<line x1="901" y1="253" x2="901" y2="463" stroke="#e68a60" stroke-width="5.5" stroke-linecap="round"/>
<line x1="901" y1="463" x2="901" y2="614" stroke="#b4b0ff" stroke-width="8.2"/>
<line x1="901" y1="463" x2="901" y2="614" stroke="#6b2390" stroke-width="5.8"/>
<line x1="926.6" y1="240.8" x2="926.6" y2="411" stroke="#e68a60" stroke-width="5.5" stroke-linecap="round"/>
<line x1="926.6" y1="411" x2="926.6" y2="629" stroke="#b4b0ff" stroke-width="8.2"/>
<line x1="926.6" y1="411" x2="926.6" y2="629" stroke="#6b2390" stroke-width="5.8"/>
<line x1="952.1" y1="227.4" x2="952.1" y2="362.5" stroke="#e68a60" stroke-width="5.5" stroke-linecap="round"/>
<line x1="952.1" y1="362.5" x2="952.1" y2="629" stroke="#b4b0ff" stroke-width="8.2"/>
<line x1="952.1" y1="362.5" x2="952.1" y2="629" stroke="#6b2390" stroke-width="5.8"/>
<line x1="977.7" y1="245" x2="977.7" y2="319" stroke="#e68a60" stroke-width="5.5" stroke-linecap="round"/>
<line x1="977.7" y1="319" x2="977.7" y2="619" stroke="#b4b0ff" stroke-width="8.2"/>
<line x1="977.7" y1="319" x2="977.7" y2="619" stroke="#6b2390" stroke-width="5.8"/>
<line x1="1003.2" y1="237.7" x2="1003.2" y2="285" stroke="#e68a60" stroke-width="5.5" stroke-linecap="round"/>
<line x1="1003.2" y1="285" x2="1003.2" y2="610" stroke="#9c9cff" stroke-width="8.6"/>
<line x1="1003.2" y1="285" x2="1003.2" y2="610" stroke="#c2563c" stroke-width="5"/>
<line x1="1028.8" y1="207.8" x2="1028.8" y2="249" stroke="#e68a60" stroke-width="5.5" stroke-linecap="round"/>
<line x1="1028.8" y1="249" x2="1028.8" y2="596" stroke="#9c9cff" stroke-width="8.6"/>
<line x1="1028.8" y1="249" x2="1028.8" y2="596" stroke="#c2563c" stroke-width="5"/>
<line x1="1054.3" y1="211" x2="1054.3" y2="223" stroke="#e68a60" stroke-width="5.5" stroke-linecap="round"/>
<line x1="1054.3" y1="223" x2="1054.3" y2="629" stroke="#9c9cff" stroke-width="8.6"/>
<line x1="1054.3" y1="223" x2="1054.3" y2="629" stroke="#c2563c" stroke-width="5"/>
<line x1="1079.9" y1="213" x2="1079.9" y2="640" stroke="#b4b0ff" stroke-width="8.2"/>
<line x1="1079.9" y1="213" x2="1079.9" y2="640" stroke="#6b2390" stroke-width="5.8"/>
<line x1="1105.5" y1="213" x2="1105.5" y2="630.7" stroke="#b4b0ff" stroke-width="8.2"/>
<line x1="1105.5" y1="213" x2="1105.5" y2="630.7" stroke="#6b2390" stroke-width="5.8"/>
<line x1="1131" y1="229.5" x2="1131" y2="565" stroke="#b4b0ff" stroke-width="8.2"/>
<line x1="1131" y1="229.5" x2="1131" y2="565" stroke="#6b2390" stroke-width="5.8"/>
<line x1="1156.5" y1="244" x2="1156.5" y2="565" stroke="#9c9cff" stroke-width="8.6"/>
<line x1="1156.5" y1="244" x2="1156.5" y2="565" stroke="#c2563c" stroke-width="5"/>
<line x1="1182.1" y1="244" x2="1182.1" y2="592" stroke="#9c9cff" stroke-width="8.6"/>
<line x1="1182.1" y1="244" x2="1182.1" y2="592" stroke="#c2563c" stroke-width="5"/>
<line x1="1207.7" y1="237.7" x2="1207.7" y2="570" stroke="#9c9cff" stroke-width="8.6"/>
<line x1="1207.7" y1="237.7" x2="1207.7" y2="570" stroke="#c2563c" stroke-width="5"/>
<line x1="1233.2" y1="244" x2="1233.2" y2="248" stroke="#e68a60" stroke-width="5.5" stroke-linecap="round"/>
<line x1="1233.2" y1="248" x2="1233.2" y2="578" stroke="#b4b0ff" stroke-width="8.2"/>
<line x1="1233.2" y1="248" x2="1233.2" y2="578" stroke="#6b2390" stroke-width="5.8"/>
<line x1="1258.8" y1="262.5" x2="1258.8" y2="280" stroke="#e68a60" stroke-width="5.5" stroke-linecap="round"/>
<line x1="1258.8" y1="280" x2="1258.8" y2="602" stroke="#b4b0ff" stroke-width="8.2"/>
<line x1="1258.8" y1="280" x2="1258.8" y2="602" stroke="#6b2390" stroke-width="5.8"/>
<line x1="1284.3" y1="270.7" x2="1284.3" y2="318" stroke="#e68a60" stroke-width="5.5" stroke-linecap="round"/>
<line x1="1284.3" y1="318" x2="1284.3" y2="643.6" stroke="#b4b0ff" stroke-width="8.2"/>
<line x1="1284.3" y1="318" x2="1284.3" y2="643.6" stroke="#6b2390" stroke-width="5.8"/>
<line x1="1309.8" y1="259.4" x2="1309.8" y2="362.5" stroke="#e68a60" stroke-width="5.5" stroke-linecap="round"/>
<line x1="1309.8" y1="362.5" x2="1309.8" y2="600" stroke="#b4b0ff" stroke-width="8.2"/>
<line x1="1309.8" y1="362.5" x2="1309.8" y2="600" stroke="#6b2390" stroke-width="5.8"/>
<line x1="1335.4" y1="270.7" x2="1335.4" y2="411.6" stroke="#e68a60" stroke-width="5.5" stroke-linecap="round"/>
<line x1="1335.4" y1="411.6" x2="1335.4" y2="580" stroke="#b4b0ff" stroke-width="8.2"/>
<line x1="1335.4" y1="411.6" x2="1335.4" y2="580" stroke="#6b2390" stroke-width="5.8"/>
<line x1="1361" y1="288" x2="1361" y2="465.7" stroke="#e68a60" stroke-width="5.5" stroke-linecap="round"/>
<line x1="1361" y1="465.7" x2="1361" y2="607.5" stroke="#b4b0ff" stroke-width="8.2"/>
<line x1="1361" y1="465.7" x2="1361" y2="607.5" stroke="#6b2390" stroke-width="5.8"/>
<line x1="1386.5" y1="322" x2="1386.5" y2="521" stroke="#e68a60" stroke-width="5.5" stroke-linecap="round"/>
<line x1="1386.5" y1="521" x2="1386.5" y2="592" stroke="#b4b0ff" stroke-width="8.2"/>
<line x1="1386.5" y1="521" x2="1386.5" y2="592" stroke="#6b2390" stroke-width="5.8"/>
<line x1="1412" y1="318" x2="1412" y2="580" stroke="#e68a60" stroke-width="5.5" stroke-linecap="round"/>
<line x1="1412" y1="580" x2="1412" y2="600" stroke="#b4b0ff" stroke-width="8.2"/>
<line x1="1412" y1="580" x2="1412" y2="600" stroke="#6b2390" stroke-width="5.8"/>
<line x1="1437.6" y1="319" x2="1437.6" y2="638" stroke="#e68a60" stroke-width="5.5" stroke-linecap="round"/>
<line x1="1437.6" y1="638" x2="1437.6" y2="669" stroke="#b4b0ff" stroke-width="8.2"/>
<line x1="1437.6" y1="638" x2="1437.6" y2="669" stroke="#6b2390" stroke-width="5.8"/>
<line x1="1463.2" y1="337" x2="1463.2" y2="621" stroke="#e68a60" stroke-width="5.5" stroke-linecap="round"/>
<line x1="1488.7" y1="354" x2="1488.7" y2="690" stroke="#e68a60" stroke-width="5.5" stroke-linecap="round"/>
<line x1="1514.2" y1="374" x2="1514.2" y2="639" stroke="#e68a60" stroke-width="5.5" stroke-linecap="round"/>
<line x1="1539.8" y1="375" x2="1539.8" y2="625" stroke="#e68a60" stroke-width="5.5" stroke-linecap="round"/>
<line x1="1565.3" y1="384" x2="1565.3" y2="643" stroke="#e68a60" stroke-width="5.5" stroke-linecap="round"/>
<line x1="1590.9" y1="409" x2="1590.9" y2="617" stroke="#e68a60" stroke-width="5.5" stroke-linecap="round"/>
<line x1="1616.5" y1="424.6" x2="1616.5" y2="622.6" stroke="#e68a60" stroke-width="5.5" stroke-linecap="round"/>
<line x1="1642" y1="432.5" x2="1642" y2="615.5" stroke="#e68a60" stroke-width="5.5" stroke-linecap="round"/>
<line x1="1667.6" y1="439.6" x2="1667.6" y2="611.5" stroke="#e68a60" stroke-width="5.5" stroke-linecap="round"/>
<line x1="1693.1" y1="458" x2="1693.1" y2="611" stroke="#e68a60" stroke-width="5.5" stroke-linecap="round"/>
<line x1="1718.7" y1="481" x2="1718.7" y2="612" stroke="#e68a60" stroke-width="5.5" stroke-linecap="round"/>
<line x1="1744.2" y1="489" x2="1744.2" y2="611" stroke="#e68a60" stroke-width="5.5" stroke-linecap="round"/>
<line x1="1769.8" y1="497.7" x2="1769.8" y2="611" stroke="#e68a60" stroke-width="5.5" stroke-linecap="round"/>
<line x1="1795.3" y1="510" x2="1795.3" y2="611" stroke="#e68a60" stroke-width="5.5" stroke-linecap="round"/>
<line x1="1820.8" y1="544" x2="1820.8" y2="612" stroke="#e68a60" stroke-width="5.5" stroke-linecap="round"/>
<line x1="1846.4" y1="549" x2="1846.4" y2="612" stroke="#e68a60" stroke-width="5.5" stroke-linecap="round"/>
<line x1="1872" y1="553" x2="1872" y2="613" stroke="#e68a60" stroke-width="5.5" stroke-linecap="round"/>
<line x1="1897.5" y1="566" x2="1897.5" y2="613" stroke="#e68a60" stroke-width="5.5" stroke-linecap="round"/>
<line x1="1923.1" y1="580" x2="1923.1" y2="614" stroke="#e68a60" stroke-width="5.5" stroke-linecap="round"/>
<line x1="1948.6" y1="600" x2="1948.6" y2="614" stroke="#e68a60" stroke-width="5.5" stroke-linecap="round"/>
<path d="M205 615.8 L206.5 615.8 L208 615.8 L209.5 615.8 L211 615.8 L212.5 615.8 L214 615.8 L215.6 615.7 L217.1 615.7 L218.6 615.7 L220.1 615.7 L221.6 615.7 L223.1 615.6 L224.6 615.6 L226.1 615.6 L227.6 615.6 L229.1 615.5 L230.6 615.5 L232.1 615.5 L233.7 615.4 L235.2 615.4 L236.7 615.4 L238.2 615.3 L239.7 615.3 L241.2 615.2 L242.7 615.2 L244.2 615.1 L245.7 615.1 L247.2 615.1 L248.7 615 L250.2 615 L251.7 614.9 L253.3 614.9 L254.8 614.8 L256.3 614.8 L257.8 614.7 L259.3 614.7 L260.8 614.7 L262.3 614.6 L263.8 614.6 L265.3 614.5 L266.8 614.5 L268.3 614.5 L269.8 614.4 L271.3 614.4 L272.9 614.3 L274.4 614.3 L275.9 614.3 L277.4 614.2 L278.9 614.2 L280.4 614.2 L281.9 614.2 L283.4 614.1 L284.9 614.1 L286.4 614.1 L287.9 614.1 L289.4 614.1 L291 614 L292.5 614 L294 614 L295.5 614 L297 614 L298.5 614 L300 614 L301.5 614 L303 614 L304.5 614 L306.1 614 L307.6 614 L309.1 613.9 L310.6 613.9 L312.1 613.9 L313.6 613.9 L315.2 613.8 L316.7 613.8 L318.2 613.8 L319.7 613.7 L321.2 613.7 L322.7 613.6 L324.2 613.6 L325.8 613.5 L327.3 613.5 L328.8 613.4 L330.3 613.4 L331.8 613.3 L333.3 613.2 L334.8 613.2 L336.4 613.1 L337.9 613.1 L339.4 613 L340.9 612.9 L342.4 612.9 L343.9 612.8 L345.5 612.7 L347 612.6 L348.5 612.6 L350 612.5 L351.5 612.4 L353 612.4 L354.5 612.3 L356.1 612.2 L357.6 612.1 L359.1 612.1 L360.6 612 L362.1 611.9 L363.6 611.9 L365.2 611.8 L366.7 611.8 L368.2 611.7 L369.7 611.6 L371.2 611.6 L372.7 611.5 L374.2 611.5 L375.8 611.4 L377.3 611.4 L378.8 611.3 L380.3 611.3 L381.8 611.2 L383.3 611.2 L384.8 611.2 L386.4 611.1 L387.9 611.1 L389.4 611.1 L390.9 611.1 L392.4 611 L393.9 611 L395.5 611 L397 611 L398.5 611 L400 611 L401.5 611 L403 611 L404.5 611 L406.1 611 L407.6 610.9 L409.1 610.9 L410.6 610.9 L412.1 610.9 L413.6 610.8 L415.1 610.8 L416.6 610.7 L418.2 610.7 L419.7 610.6 L421.2 610.6 L422.7 610.5 L424.2 610.5 L425.7 610.4 L427.2 610.3 L428.7 610.2 L430.3 610.2 L431.8 610.1 L433.3 610 L434.8 609.9 L436.3 609.8 L437.8 609.7 L439.3 609.6 L440.8 609.6 L442.4 609.5 L443.9 609.4 L445.4 609.3 L446.9 609.2 L448.4 609.1 L449.9 608.9 L451.4 608.8 L452.9 608.7 L454.5 608.6 L456 608.5 L457.5 608.4 L459 608.3 L460.5 608.2 L462 608.1 L463.5 608 L465.1 607.9 L466.6 607.8 L468.1 607.7 L469.6 607.5 L471.1 607.4 L472.6 607.3 L474.1 607.2 L475.6 607.1 L477.2 607 L478.7 607 L480.2 606.9 L481.7 606.8 L483.2 606.7 L484.7 606.6 L486.2 606.5 L487.7 606.4 L489.3 606.4 L490.8 606.3 L492.3 606.2 L493.8 606.1 L495.3 606.1 L496.8 606 L498.3 606 L499.8 605.9 L501.4 605.9 L502.9 605.8 L504.4 605.8 L505.9 605.7 L507.4 605.7 L508.9 605.7 L510.4 605.7 L511.9 605.6 L513.5 605.6 L515 605.6 L516.5 605.6 L518 605.6 L519.5 605.6 L521 605.6 L522.5 605.6 L524 605.6 L525.6 605.5 L527.1 605.5 L528.6 605.5 L530.1 605.5 L531.6 605.4 L533.1 605.4 L534.6 605.4 L536.1 605.3 L537.7 605.3 L539.2 605.2 L540.7 605.2 L542.2 605.1 L543.7 605.1 L545.2 605 L546.7 605 L548.2 604.9 L549.8 604.9 L551.3 604.8 L552.8 604.8 L554.3 604.7 L555.8 604.7 L557.3 604.6 L558.8 604.6 L560.3 604.5 L561.9 604.5 L563.4 604.4 L564.9 604.4 L566.4 604.4 L567.9 604.3 L569.4 604.3 L570.9 604.3 L572.4 604.3 L574 604.2 L575.5 604.2 L577 604.2 L578.5 604.2 L580 604.2 L581.5 604.2 L583.1 604.2 L584.6 604.2 L586.2 604.3 L587.7 604.3 L589.3 604.3 L590.8 604.3 L592.4 604.4 L593.9 604.4 L595.5 604.4 L597 604.4 L598.5 604.4 L600.1 604.2 L601.6 604 L603.1 603.7 L604.7 603.3 L606.2 602.8 L607.7 602.4 L609.3 601.9 L610.8 601.5 L612.3 601 L613.9 600.6 L615.4 600.3 L616.9 600.1 L618.5 599.9 L620 599.9 L621.5 599.9 L623 600 L624.5 600.1 L626 600.3 L627.5 600.5 L629 600.7 L630.5 601 L632 601.2 L633.6 601.5 L635.1 601.7 L636.6 602 L638.1 602.2 L639.6 602.4 L641.1 602.6 L642.6 602.7 L644.1 602.8 L645.6 602.8 L647.1 602.6 L648.6 602.1 L650.2 601.3 L651.7 600.3 L653.2 599.2 L654.7 598.1 L656.2 597.1 L657.8 596.3 L659.3 595.8 L660.8 595.6 L662.4 595.7 L664 596.1 L665.6 596.7 L667.1 597.5 L668.7 598.4 L670.3 599.5 L671.9 600.5 L673.5 601.6 L675.1 602.5 L676.6 603.3 L678.2 603.9 L679.8 604.3 L681.4 604.4 L683 604.2 L684.5 603.5 L686.1 602.3 L687.7 600.9 L689.3 599.2 L690.8 597.4 L692.4 595.6 L694 593.9 L695.6 592.5 L697.1 591.3 L698.7 590.6 L700.3 590.4 L701.8 590.4 L703.3 590.5 L704.8 590.6 L706.4 590.8 L707.9 591 L709.4 591.3 L710.9 591.7 L712.4 592.1 L713.9 592.6 L715.4 593.2 L716.9 594 L718.5 594.8 L720 596 L721.5 597.5 L723 601.5 L724.6 595.3 L726.1 592.9 L727.7 591.1 L729.2 589.8 L730.8 588.7 L732.3 587.8 L733.9 587.1 L735.4 586.5 L737 586.1 L738.5 585.7 L740.1 585.5 L741.6 585.3 L743.2 585.3 L744.7 585.4 L746.2 585.6 L747.7 586 L749.2 586.5 L750.7 587.2 L752.2 588.1 L753.8 589.3 L755.3 590.7 L756.8 592.5 L758.3 594.8 L759.8 598 L761.3 606.5 L762.8 596.7 L764.3 592.9 L765.8 590.2 L767.4 588.1 L768.9 586.4 L770.4 585 L771.9 583.9 L773.4 583 L774.9 582.2 L776.5 581.7 L778 581.3 L779.5 581.1 L781 581 L782.5 581.1 L784 581.4 L785.5 581.8 L787 582.5 L788.5 583.4 L790 584.5 L791.5 585.9 L793 587.6 L794.5 589.8 L796 592.6 L797.5 596.6 L799 607 L800.6 592.4 L802.1 586.7 L803.7 582.6 L805.2 579.4 L806.8 576.7 L808.3 574.5 L809.9 572.7 L811.4 571.1 L813 569.8 L814.5 568.7 L816.1 567.9 L817.6 567.2 L819.2 566.8 L820.7 566.5 L822.3 566.4 L823.9 566.6 L825.4 567.1 L827 567.9 L828.5 569 L830.1 570.6 L831.7 572.6 L833.2 575 L834.8 578 L836.4 581.6 L837.9 586.1 L839.5 591.9 L841 600 L842.6 621 L844.2 597 L845.9 588 L847.5 581.7 L849.2 577 L850.8 573.4 L852.4 570.6 L854.1 568.5 L855.7 567.1 L857.4 566.3 L859 566 L860.5 566.3 L862.1 567.2 L863.6 568.7 L865.2 570.8 L866.7 573.6 L868.2 577.3 L869.8 581.8 L871.3 587.4 L872.9 594.4 L874.4 603.6 L876 616.4 L877.5 650 L879 613.5 L880.6 599.2 L882.1 588.9 L883.6 580.8 L885.1 574.1 L886.7 568.6 L888.2 563.9 L889.7 560 L891.2 556.7 L892.8 554 L894.3 551.9 L895.8 550.3 L897.3 549.1 L898.9 548.4 L900.4 548.2 L901.9 548.5 L903.5 549.2 L905 550.5 L906.6 552.3 L908.1 554.7 L909.7 557.8 L911.2 561.5 L912.8 566.2 L914.3 571.8 L915.9 578.8 L917.4 587.8 L919 600.4 L920.5 633 L922 598.2 L923.6 584.7 L925.1 575.1 L926.7 567.6 L928.2 561.6 L929.8 556.7 L931.3 552.6 L932.9 549.4 L934.4 546.8 L936 544.8 L937.5 543.5 L939.1 542.7 L940.6 542.4 L942.1 542.6 L943.7 543.2 L945.2 544.1 L946.8 545.5 L948.3 547.4 L949.8 549.9 L951.4 553.1 L952.9 557.4 L954.5 563.6 L956 580 L957.5 563.6 L959.1 557.2 L960.6 552.6 L962.1 549 L963.6 546.1 L965.2 543.6 L966.7 541.6 L968.2 540 L969.8 538.6 L971.3 537.5 L972.8 536.7 L974.3 536.2 L975.9 535.8 L977.4 535.7 L978.9 535.9 L980.4 536.3 L982 537.1 L983.5 538.2 L985 539.7 L986.5 541.6 L988 544 L989.5 547 L991 550.7 L992.6 555.5 L994.1 562.3 L995.6 580 L997.2 557.5 L998.7 548.7 L1000.3 542.2 L1001.8 537.1 L1003.4 532.8 L1004.9 529.2 L1006.5 526.1 L1008 523.5 L1009.6 521.2 L1011.1 519.3 L1012.7 517.7 L1014.2 516.3 L1015.8 515.3 L1017.3 514.4 L1018.9 513.9 L1020.4 513.5 L1022 513.4 L1023.5 513.6 L1025 514.2 L1026.5 515.3 L1028 516.7 L1029.5 518.6 L1031 521 L1032.5 523.9 L1034 527.4 L1035.5 531.5 L1037 536.3 L1038.5 542 L1040 548.8 L1041.5 557 L1043 567.4 L1044.5 581.6 L1046 618 L1047.6 579.7 L1049.1 565.5 L1050.7 555.8 L1052.2 548.6 L1053.8 543.2 L1055.3 539.3 L1056.9 536.6 L1058.4 535 L1060 534.5 L1061.5 535.3 L1063.1 537.9 L1064.7 542.2 L1066.2 548.6 L1067.8 557.6 L1069.3 570.2 L1070.9 588.9 L1072.4 640 L1073.8 587.1 L1075.2 570.7 L1076.6 562.5 L1078 560 L1079.1 561.7 L1080.2 567 L1081.3 577.6 L1082.4 612 L1083.9 570.2 L1085.4 553.9 L1086.9 542.1 L1088.4 532.8 L1089.9 525.2 L1091.4 518.8 L1092.9 513.5 L1094.5 509 L1096 505.2 L1097.5 502.2 L1099 499.7 L1100.5 497.9 L1102 496.5 L1103.5 495.8 L1105 495.5 L1106.5 495.6 L1108.1 495.9 L1109.6 496.3 L1111.1 496.9 L1112.6 497.7 L1114.2 498.5 L1115.7 499.5 L1117.2 500.5 L1118.8 501.5 L1120.3 502.5 L1121.8 503.5 L1123.4 504.3 L1124.9 505.1 L1126.4 505.7 L1127.9 506.1 L1129.5 506.4 L1131 506.5 L1132.6 506.5 L1134.2 506.7 L1135.7 506.9 L1137.3 507.1 L1138.9 507.5 L1140.5 507.8 L1142 508.2 L1143.6 508.5 L1145.2 508.9 L1146.8 509.1 L1148.3 509.3 L1149.9 509.5 L1151.5 509.5 L1153 509.7 L1154.6 510.3 L1156.1 511.3 L1157.7 512.8 L1159.2 514.7 L1160.8 517.1 L1162.3 520.1 L1163.9 523.6 L1165.4 527.8 L1167 532.8 L1168.5 538.8 L1170.1 546.1 L1171.6 555.4 L1173.2 568.2 L1174.7 601 L1175.7 568.6 L1176.6 558.6 L1177.5 553.6 L1178.5 552 L1179.5 553.2 L1180.5 557.2 L1181.5 565.2 L1182.5 591 L1184.1 561.2 L1185.7 549.6 L1187.2 541.4 L1188.8 535 L1190.4 529.8 L1192 525.6 L1193.5 522.2 L1195.1 519.4 L1196.7 517.2 L1198.3 515.5 L1199.8 514.3 L1201.4 513.6 L1203 513.4 L1204.6 513.6 L1206.2 514.1 L1207.8 514.9 L1209.4 515.9 L1211 517.1 L1212.6 518.5 L1214.1 519.9 L1215.7 521.3 L1217.3 522.5 L1218.9 523.5 L1220.5 524.3 L1222.1 524.8 L1223.7 525 L1225.2 524.8 L1226.8 524.4 L1228.3 523.7 L1229.8 522.8 L1231.3 521.8 L1232.9 520.7 L1234.4 519.8 L1235.9 519.1 L1237.5 518.7 L1239 518.5 L1240.5 518.7 L1242.1 519.3 L1243.6 520.1 L1245.2 521.3 L1246.7 522.6 L1248.3 523.9 L1249.8 525.2 L1251.4 526.4 L1252.9 527.2 L1254.5 527.8 L1256 528 L1257.6 528.1 L1259.1 528.5 L1260.7 529.1 L1262.2 529.9 L1263.8 531.1 L1265.4 532.5 L1266.9 534.1 L1268.5 536.2 L1270.1 538.6 L1271.6 541.4 L1273.2 544.7 L1274.8 548.7 L1276.3 553.4 L1277.9 559.5 L1279.4 567.8 L1281 589 L1282.5 580.7 L1284 577.6 L1285.5 575.4 L1287 573.8 L1288.5 572.5 L1290 571.6 L1291.5 570.9 L1293 570.4 L1294.5 570.1 L1296 570 L1297.5 569.8 L1299.1 569.3 L1300.6 568.4 L1302.2 567.2 L1303.7 565.7 L1305.2 563.9 L1306.8 561.9 L1308.3 559.8 L1309.9 557.6 L1311.4 555.2 L1312.9 552.9 L1314.5 550.7 L1316 548.6 L1317.6 546.6 L1319.1 544.8 L1320.6 543.3 L1322.2 542.1 L1323.7 541.2 L1325.3 540.7 L1326.8 540.5 L1328.3 540.7 L1329.9 541.3 L1331.4 542.4 L1333 543.7 L1334.5 545.4 L1336.1 547.2 L1337.6 549.2 L1339.2 551.3 L1340.7 553.3 L1342.3 555.1 L1343.8 556.8 L1345.4 558.1 L1346.9 559.2 L1348.5 559.8 L1350 560 L1351.6 560 L1353.1 560.1 L1354.7 560.3 L1356.3 560.5 L1357.9 560.8 L1359.4 561.1 L1361 561.4 L1362.6 561.7 L1364.1 562 L1365.7 562.3 L1367.3 562.5 L1368.9 562.7 L1370.4 562.8 L1372 562.8 L1373.6 563.1 L1375.1 563.9 L1376.7 565.1 L1378.2 566.6 L1379.8 568.2 L1381.3 569.7 L1382.9 570.9 L1384.4 571.7 L1386 572 L1387.5 572.2 L1389 572.9 L1390.5 574 L1392 575.6 L1393.5 577.8 L1395 580.5 L1396.6 583.8 L1398.1 587.9 L1399.6 592.9 L1401.1 599.1 L1402.6 607 L1404.1 618.2 L1405.6 647 L1407.4 618.2 L1409.2 608.6 L1410.9 603 L1412.7 600 L1414.5 599 L1416 599 L1417.5 598.9 L1419 598.9 L1420.5 598.8 L1422 598.6 L1423.5 598.5 L1425 598.4 L1426.5 598.2 L1428 598.1 L1429.5 598.1 L1431 598 L1432.5 598 L1434 597.8 L1435.6 597.4 L1437.1 596.6 L1438.6 595.5 L1440.1 594.2 L1441.7 592.8 L1443.2 591.1 L1444.7 589.3 L1446.2 587.5 L1447.8 585.7 L1449.3 583.9 L1450.8 582.2 L1452.4 580.8 L1453.9 579.5 L1455.4 578.4 L1456.9 577.6 L1458.5 577.2 L1460 577 L1461.5 577.1 L1463 577.3 L1464.5 577.7 L1466 578.2 L1467.5 578.9 L1469 579.7 L1470.5 580.5 L1472 581.5 L1473.5 582.5 L1475 583.5 L1476.5 584.5 L1478 585.5 L1479.5 586.5 L1481 587.3 L1482.5 588.1 L1484 588.8 L1485.5 589.3 L1487 589.7 L1488.5 589.9 L1490 590 L1491.5 590.1 L1493.1 590.3 L1494.7 590.7 L1496.2 591.3 L1497.8 592 L1499.3 592.8 L1500.8 593.7 L1502.4 594.7 L1504 595.7 L1505.5 596.8 L1507 597.9 L1508.6 598.9 L1510.2 599.9 L1511.7 600.8 L1513.2 601.6 L1514.8 602.3 L1516.3 602.9 L1517.9 603.3 L1519.5 603.5 L1521 603.6 L1522.5 603.6 L1524 603.4 L1525.5 603.2 L1527 602.9 L1528.5 602.6 L1530 602.2 L1531.5 601.7 L1533 601.3 L1534.5 600.9 L1536 600.4 L1537.5 600 L1539 599.7 L1540.5 599.4 L1542 599.2 L1543.5 599 L1545 599 L1546.5 599 L1548 598.9 L1549.5 598.8 L1551 598.7 L1552.5 598.5 L1554 598.4 L1555.5 598.2 L1557 598 L1558.5 597.9 L1560 597.7 L1561.5 597.6 L1563 597.5 L1564.5 597.4 L1566 597.4 L1567.5 597.4 L1569.1 597.4 L1570.6 597.5 L1572.2 597.5 L1573.7 597.6 L1575.3 597.7 L1576.8 597.8 L1578.4 597.9 L1579.9 598 L1581.5 598.1 L1583 598.2 L1584.5 598.3 L1586.1 598.4 L1587.6 598.5 L1589.2 598.6 L1590.7 598.7 L1592.3 598.8 L1593.8 598.9 L1595.4 598.9 L1596.9 599 L1598.5 599 L1600 599 L1601.5 599 L1603 599 L1604.5 599.1 L1606 599.1 L1607.5 599.2 L1609 599.3 L1610.5 599.4 L1612 599.5 L1613.5 599.6 L1615 599.7 L1616.5 599.9 L1618 600 L1619.5 600.2 L1621 600.4 L1622.5 600.5 L1624 600.7 L1625.5 600.9 L1627 601.1 L1628.5 601.3 L1630 601.5 L1631.5 601.7 L1633 601.9 L1634.5 602.1 L1636 602.3 L1637.5 602.5 L1639 602.6 L1640.5 602.8 L1642 603 L1643.5 603.1 L1645 603.3 L1646.5 603.4 L1648 603.5 L1649.5 603.6 L1651 603.7 L1652.5 603.8 L1654 603.9 L1655.5 603.9 L1657 604 L1658.5 604 L1660 604 L1661.5 604 L1663 604 L1664.5 604 L1666 604.1 L1667.5 604.1 L1669 604.2 L1670.5 604.2 L1672 604.3 L1673.5 604.4 L1675 604.4 L1676.5 604.5 L1678 604.6 L1679.5 604.7 L1681 604.8 L1682.5 605 L1684 605.1 L1685.5 605.2 L1687 605.3 L1688.5 605.5 L1690 605.6 L1691.5 605.8 L1693 605.9 L1694.5 606 L1696 606.2 L1697.5 606.3 L1699 606.5 L1700.5 606.7 L1702 606.8 L1703.5 607 L1705 607.1 L1706.5 607.2 L1708 607.4 L1709.5 607.5 L1711 607.7 L1712.5 607.8 L1714 607.9 L1715.5 608 L1717 608.2 L1718.5 608.3 L1720 608.4 L1721.5 608.5 L1723 608.6 L1724.5 608.6 L1726 608.7 L1727.5 608.8 L1729 608.8 L1730.5 608.9 L1732 608.9 L1733.5 609 L1735 609 L1736.5 609 L1738 609 L1739.5 609 L1741 609 L1742.5 609 L1744.1 609 L1745.6 609 L1747.1 609 L1748.6 609.1 L1750.1 609.1 L1751.6 609.1 L1753.1 609.1 L1754.6 609.2 L1756.2 609.2 L1757.7 609.2 L1759.2 609.3 L1760.7 609.3 L1762.2 609.3 L1763.7 609.4 L1765.2 609.4 L1766.8 609.5 L1768.3 609.5 L1769.8 609.6 L1771.3 609.6 L1772.8 609.7 L1774.3 609.7 L1775.8 609.8 L1777.4 609.8 L1778.9 609.9 L1780.4 609.9 L1781.9 610 L1783.4 610.1 L1784.9 610.1 L1786.4 610.2 L1787.9 610.2 L1789.5 610.3 L1791 610.4 L1792.5 610.4 L1794 610.5 L1795.5 610.6 L1797 610.6 L1798.5 610.7 L1800.1 610.8 L1801.6 610.8 L1803.1 610.9 L1804.6 610.9 L1806.1 611 L1807.6 611.1 L1809.1 611.1 L1810.6 611.2 L1812.2 611.2 L1813.7 611.3 L1815.2 611.3 L1816.7 611.4 L1818.2 611.4 L1819.7 611.5 L1821.2 611.5 L1822.8 611.6 L1824.3 611.6 L1825.8 611.7 L1827.3 611.7 L1828.8 611.7 L1830.3 611.8 L1831.8 611.8 L1833.4 611.8 L1834.9 611.9 L1836.4 611.9 L1837.9 611.9 L1839.4 611.9 L1840.9 612 L1842.4 612 L1843.9 612 L1845.5 612 L1847 612 L1848.5 612 L1850 612 L1851.5 612 L1853 612 L1854.5 612 L1856 612 L1857.5 612 L1859 612 L1860.5 612.1 L1862 612.1 L1863.5 612.1 L1865 612.1 L1866.5 612.1 L1868 612.2 L1869.5 612.2 L1871 612.2 L1872.5 612.3 L1874 612.3 L1875.5 612.3 L1877 612.4 L1878.5 612.4 L1880 612.5 L1881.5 612.5 L1883 612.6 L1884.5 612.6 L1886 612.7 L1887.5 612.7 L1889 612.8 L1890.5 612.8 L1892 612.9 L1893.5 612.9 L1895 613 L1896.5 613 L1898 613.1 L1899.5 613.1 L1901 613.2 L1902.5 613.2 L1904 613.3 L1905.5 613.4 L1907 613.4 L1908.5 613.5 L1910 613.5 L1911.5 613.6 L1913 613.6 L1914.5 613.7 L1916 613.7 L1917.5 613.8 L1919 613.8 L1920.5 613.9 L1922 613.9 L1923.5 614 L1925 614 L1926.5 614.1 L1928 614.1 L1929.5 614.2 L1931 614.2 L1932.5 614.2 L1934 614.3 L1935.5 614.3 L1937 614.3 L1938.5 614.4 L1940 614.4 L1941.5 614.4 L1943 614.4 L1944.5 614.4 L1946 614.5 L1947.5 614.5 L1949 614.5 L1950.5 614.5 L1952 614.5 L1953.5 614.5 L1955 614.5" fill="none" stroke="#d95319" stroke-width="4.5" stroke-linejoin="round" stroke-linecap="round"/>
<line x1="876.6" y1="596" x2="876.6" y2="713" stroke="#d95319" stroke-width="3.4" stroke-linecap="round"/>
<line x1="1072.4" y1="600" x2="1072.4" y2="693.5" stroke="#d95319" stroke-width="3.4" stroke-linecap="round"/>
<line x1="1054.5" y1="560" x2="1054.5" y2="628.6" stroke="#d95319" stroke-width="3.4" stroke-linecap="round"/>
<line x1="722.6" y1="600" x2="722.6" y2="695" stroke="#d95319" stroke-width="3.4" stroke-linecap="round"/>
<line x1="1105.4" y1="560" x2="1105.4" y2="630.7" stroke="#d95319" stroke-width="3.4" stroke-linecap="round"/>
<line x1="1174.7" y1="560" x2="1174.7" y2="601" stroke="#d95319" stroke-width="3.4" stroke-linecap="round"/>
<line x1="1182.5" y1="560" x2="1182.5" y2="591" stroke="#d95319" stroke-width="3.4" stroke-linecap="round"/>
<line x1="1233" y1="560" x2="1233" y2="578" stroke="#d95319" stroke-width="3.4" stroke-linecap="round"/>
<line x1="213.3" y1="213" x2="1949.5" y2="213" stroke="#bd4638" stroke-width="5.6"/>
<line x1="211.3" y1="212.8" x2="230.3" y2="212.8" stroke="#3a2020" stroke-width="4.2"/>
<line x1="1930.5" y1="212.8" x2="1949.5" y2="212.8" stroke="#4a2a28" stroke-width="3.6"/>
</g>
<line x1="237.2" y1="281" x2="237.2" y2="617.5" stroke="#0a0a0a" stroke-width="7" stroke-linecap="round"/>
<line x1="824.6" y1="155" x2="824.6" y2="676" stroke="#0a0a0a" stroke-width="7" stroke-linecap="round"/>
<line x1="1413.3" y1="156" x2="1413.3" y2="678.5" stroke="#0a0a0a" stroke-width="7" stroke-linecap="round"/>
<line x1="1923.6" y1="283.5" x2="1923.6" y2="612.5" stroke="#0a0a0a" stroke-width="7" stroke-linecap="round"/>
<line x1="824.6" y1="645" x2="824.6" y2="674" stroke="#0000c8" stroke-width="6" opacity="0.75"/>
<g fill="#0c3cf8">
<circle cx="889" cy="156.7" r="4.6"/>
<circle cx="922.4" cy="156.7" r="4.6"/>
<circle cx="955.8" cy="156.7" r="4.6"/>
<circle cx="989.1" cy="156.7" r="4.6"/>
<circle cx="1022.5" cy="156.7" r="4.6"/>
<circle cx="1055.9" cy="156.7" r="4.6"/>
<circle cx="1089.3" cy="156.7" r="4.6"/>
<circle cx="1122.7" cy="156.7" r="4.6"/>
<circle cx="1156" cy="156.7" r="4.6"/>
<circle cx="1189.4" cy="156.7" r="4.6"/>
<circle cx="1222.8" cy="156.7" r="4.6"/>
<circle cx="1256.2" cy="156.7" r="4.6"/>
<circle cx="1289.6" cy="156.7" r="4.6"/>
<circle cx="1322.9" cy="156.7" r="4.6"/>
<circle cx="1356.3" cy="156.7" r="4.6"/>
</g>
<path d="M827.8 156.8 L865.3 136.6 L861.1 156.8 L865.3 177 Z" fill="#0c3cf8"/>
<path d="M1399.6 156.8 L1363.6 136.6 L1367.8 156.8 L1363.6 177 Z" fill="#0c3cf8"/>
<g fill="#e63a1c">
<circle cx="300.9" cy="283.8" r="4.6"/>
<circle cx="334.3" cy="283.8" r="4.6"/>
<circle cx="367.8" cy="283.8" r="4.6"/>
<circle cx="401.2" cy="283.8" r="4.6"/>
<circle cx="434.7" cy="283.8" r="4.6"/>
<circle cx="468.1" cy="283.8" r="4.6"/>
<circle cx="501.6" cy="283.8" r="4.6"/>
<circle cx="535" cy="283.8" r="4.6"/>
<circle cx="568.5" cy="283.8" r="4.6"/>
<circle cx="602" cy="283.8" r="4.6"/>
<circle cx="635.4" cy="283.8" r="4.6"/>
<circle cx="668.9" cy="283.8" r="4.6"/>
<circle cx="702.3" cy="283.8" r="4.6"/>
<circle cx="735.8" cy="283.8" r="4.6"/>
<circle cx="769.2" cy="283.8" r="4.6"/>
<circle cx="802.7" cy="283.8" r="4.6"/>
<circle cx="836.1" cy="283.8" r="4.6"/>
<circle cx="869.6" cy="283.8" r="4.6"/>
<circle cx="903" cy="283.8" r="4.6"/>
<circle cx="936.5" cy="283.8" r="4.6"/>
<circle cx="969.9" cy="283.8" r="4.6"/>
<circle cx="1003.4" cy="283.8" r="4.6"/>
<circle cx="1036.8" cy="283.8" r="4.6"/>
<circle cx="1070.2" cy="283.8" r="4.6"/>
<circle cx="1103.7" cy="283.8" r="4.6"/>
<circle cx="1137.2" cy="283.8" r="4.6"/>
<circle cx="1170.6" cy="283.8" r="4.6"/>
<circle cx="1204.1" cy="283.8" r="4.6"/>
<circle cx="1237.5" cy="283.8" r="4.6"/>
<circle cx="1271" cy="283.8" r="4.6"/>
<circle cx="1304.4" cy="283.8" r="4.6"/>
<circle cx="1337.8" cy="283.8" r="4.6"/>
<circle cx="1371.3" cy="283.8" r="4.6"/>
<circle cx="1404.8" cy="283.8" r="4.6"/>
<circle cx="1438.2" cy="283.8" r="4.6"/>
<circle cx="1471.7" cy="283.8" r="4.6"/>
<circle cx="1505.1" cy="283.8" r="4.6"/>
<circle cx="1538.6" cy="283.8" r="4.6"/>
<circle cx="1572" cy="283.8" r="4.6"/>
<circle cx="1605.5" cy="283.8" r="4.6"/>
<circle cx="1638.9" cy="283.8" r="4.6"/>
<circle cx="1672.3" cy="283.8" r="4.6"/>
<circle cx="1705.8" cy="283.8" r="4.6"/>
<circle cx="1739.2" cy="283.8" r="4.6"/>
<circle cx="1772.7" cy="283.8" r="4.6"/>
<circle cx="1806.2" cy="283.8" r="4.6"/>
<circle cx="1839.6" cy="283.8" r="4.6"/>
<circle cx="1873.1" cy="283.8" r="4.6"/>
</g>
<path d="M240.6 283.4 L278.1 263.2 L273.9 283.4 L278.1 303.6 Z" fill="#e63a1c"/>
<path d="M1920.6 284.5 L1883.1 264.3 L1887.3 284.5 L1883.1 304.7 Z" fill="#e63a1c"/>
<rect x="1526.5" y="42.6" width="415" height="137.4" fill="#ffffff" stroke="#4a4a4a" stroke-width="4.4"/>
<line x1="1529" y1="48.5" x2="1939" y2="48.5" stroke="#9a9a9a" stroke-width="4"/>
<line x1="1936.5" y1="47" x2="1936.5" y2="178" stroke="#a5a5a5" stroke-width="4"/>
<line x1="1540" y1="79.8" x2="1585" y2="79.8" stroke="#0000ff" stroke-width="8.4" stroke-linecap="round"/>
<line x1="1539" y1="141.8" x2="1586" y2="141.8" stroke="#d95319" stroke-width="6.4" stroke-linecap="round"/>
</g>
<g filter="url(#soft2)" font-family="'Liberation Serif', 'Times New Roman', serif" font-weight="bold">
<text x="190.6" y="54.1" font-size="48" text-anchor="end" fill="#303030">50</text>
<text x="185.2" y="236" font-size="46.5" text-anchor="end" fill="#303030">0</text>
<text x="190.6" y="402.7" font-size="46.5" text-anchor="end" fill="#303030">-50</text>
<text x="190.6" y="575.7" font-size="46.5" text-anchor="end" fill="#303030">-100</text>
<text x="189.6" y="759.2" font-size="46.5" text-anchor="end" fill="#303030">-150</text>
<text x="189.6" y="934.3" font-size="46.5" text-anchor="end" fill="#303030">-200</text>
<text transform="translate(314.8 999.2) scale(1 1.155)" font-size="53" text-anchor="middle" fill="#303030">192.7</text>
<text transform="translate(519.1 999.2) scale(1 1.155)" font-size="53" text-anchor="middle" fill="#303030">192.8</text>
<text transform="translate(723.4 999.2) scale(1 1.155)" font-size="53" text-anchor="middle" fill="#303030">192.9</text>
<text transform="translate(927.7 999.2) scale(1 1.155)" font-size="53" text-anchor="middle" fill="#303030">193</text>
<text transform="translate(1132 999.2) scale(1 1.155)" font-size="53" text-anchor="middle" fill="#303030">193.1</text>
<text transform="translate(1336.3 999.2) scale(1 1.155)" font-size="53" text-anchor="middle" fill="#303030">193.2</text>
<text transform="translate(1540.7 999.2) scale(1 1.155)" font-size="53" text-anchor="middle" fill="#303030">193.3</text>
<text transform="translate(1745 999.2) scale(1 1.155)" font-size="53" text-anchor="middle" fill="#303030">193.4</text>
<text transform="translate(1949.3 999.2) scale(1 1.155)" font-size="53" text-anchor="middle" fill="#303030">193.5</text>
<text transform="translate(1128.2 1129.4) scale(1 1.12)" font-size="52.2" text-anchor="middle" fill="#303030">Frequency [THz]</text>
<text transform="translate(68.8 492) rotate(-90) scale(1 1.154)" font-size="52.6" text-anchor="middle" fill="#303030">Optical Power [dBm]</text>
<text x="1117" y="112.2" font-size="44" text-anchor="middle" fill="#0c3cf8" textLength="299" lengthAdjust="spacing">OFC Lines = 24</text>
<text x="487.5" y="261.6" font-size="45" text-anchor="middle" fill="#e63a1c" textLength="298" lengthAdjust="spacing">OFC Lines = 68</text>
<text transform="translate(1598.5 86.6) scale(1 1.17)" font-size="32.9" fill="#1c1c1c" textLength="332" lengthAdjust="spacingAndGlyphs">OFC Lines Before SOA</text>
<text transform="translate(1594 147.5) scale(1 1.17)" font-size="32.9" fill="#1c1c1c" textLength="321" lengthAdjust="spacingAndGlyphs">OFC Lines After SOA</text>
</g>
</svg>
</body>
</html>
